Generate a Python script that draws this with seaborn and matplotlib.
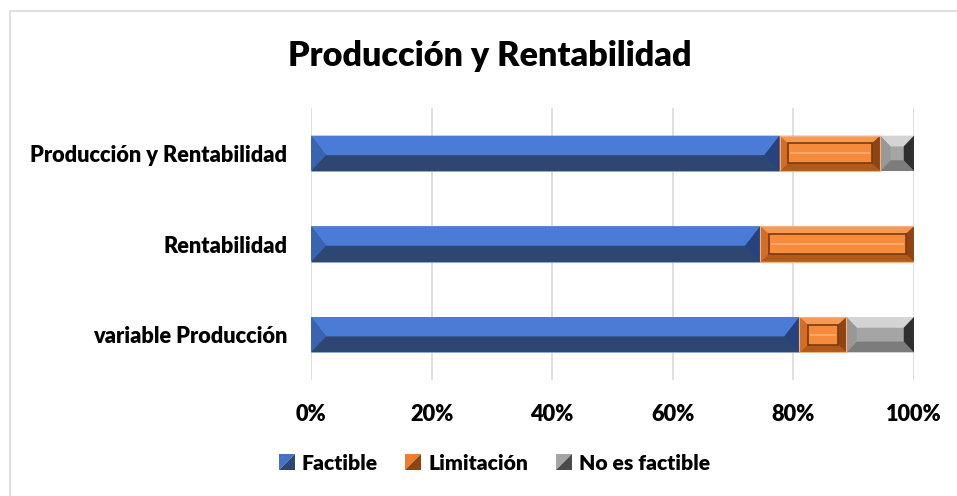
import matplotlib
matplotlib.use("Agg")
import matplotlib.pyplot as plt
from matplotlib.patches import Polygon, Rectangle, Patch
from matplotlib.legend_handler import HandlerBase
import pandas as pd
import seaborn as sns

# === Data ===
categories = ["Producción y Rentabilidad", "Rentabilidad", "variable Producción"]
factible = [77.7, 74.5, 81.0]
limitacion = [16.7, 25.5, 7.8]
no_factible = [5.6, 0.0, 11.2]
series_names = ["Factible", "Limitación", "No es factible"]
x_ticks = [0, 20, 40, 60, 80, 100]

df = pd.DataFrame({"cat": categories, "Factible": factible,
                   "Limitación": limitacion, "No es factible": no_factible})
df["c1"] = df["Factible"]
df["c2"] = df["c1"] + df["Limitación"]
df["c3"] = df["c2"] + df["No es factible"]

plt.rcParams["font.family"] = ["Lato", "DejaVu Sans"]
plt.rcParams["font.weight"] = "heavy"

fig = plt.figure(figsize=(9.57, 4.96), dpi=100)
ax = fig.add_axes([311 / 957, 1 - 380 / 496, 603 / 957, 272 / 496])

# === Stacked bars: draw cumulative totals, widest first ===
layers = [("c3", "#A5A5A5"), ("c2", "#ED7D31"), ("c1", "#2E4672")]
patch_sets = {}
for col, color in layers:
    n0 = len(ax.patches)
    sns.barplot(data=df, x=col, y="cat", orient="h", color=color, width=0.39,
                saturation=1, ax=ax, zorder=2)
    patch_sets[col] = ax.patches[n0:]

# bevel size in data units (about 8 px)
bx = 1.4
by = 0.085


def poly(pts, color):
    ax.add_patch(Polygon(pts, closed=True, facecolor=color, edgecolor="none", zorder=3))


for i, p in enumerate(patch_sets["c1"]):
    y0, h = p.get_y(), p.get_height()
    y1 = y0 + h
    ym = y0 + 0.55 * h
    x0, x1 = 0, df["c1"][i]
    bb = 2.5
    poly([(x0, y0), (x1, y0), (x1 - bb, ym), (x0 + bb, ym)], "#4A7BD7")
    poly([(x0, y0), (x0 + bb, ym), (x0, y1)], "#3A63B2")
    poly([(x1, y0), (x1 - bb, ym), (x1, y1)], "#27437E")
    p.set_edgecolor("#8FAADC")
    p.set_linewidth(0.6)

for i, p in enumerate(patch_sets["c2"]):
    x0, x1 = df["c1"][i], df["c2"][i]
    if x1 - x0 <= 0:
        continue
    y0, h = p.get_y(), p.get_height()
    y1 = y0 + h
    bxx = min(bx, (x1 - x0) / 4)
    poly([(x0, y0), (x1, y0), (x1 - bxx, y0 + by), (x0 + bxx, y0 + by)], "#F59A55")
    poly([(x0, y1), (x1, y1), (x1 - bxx, y1 - by), (x0 + bxx, y1 - by)], "#B05A1C")
    poly([(x0, y0), (x0 + bxx, y0 + by), (x0 + bxx, y1 - by), (x0, y1)], "#D36C24")
    poly([(x1, y0), (x1 - bxx, y0 + by), (x1 - bxx, y1 - by), (x1, y1)], "#8E4512")
    ax.add_patch(Rectangle((x0 + bxx, y0 + by), x1 - x0 - 2 * bxx, h - 2 * by,
                           facecolor="#F68B3C", edgecolor="#7A3A10", lw=1.2, zorder=4))
    ax.plot([x0 + bxx + 0.5, x1 - bxx - 0.5], [y0 + h / 2] * 2, color="#FFB070",
            lw=1.2, zorder=5)
    ax.add_patch(Rectangle((x0, y0), x1 - x0, h, facecolor="none",
                           edgecolor="#F4B183", lw=0.8, zorder=5))

for i, p in enumerate(patch_sets["c3"]):
    x0, x1 = df["c2"][i], df["c3"][i]
    if x1 - x0 <= 0:
        continue
    y0, h = p.get_y(), p.get_height()
    y1 = y0 + h
    bxx = min(1.7, (x1 - x0) / 2.3)
    byy = min(by * 1.4, h / 2.3)
    poly([(x0, y0), (x1, y0), (x1 - bxx, y0 + byy), (x0 + bxx, y0 + byy)], "#D4D4D4")
    poly([(x0, y1), (x1, y1), (x1 - bxx, y1 - byy), (x0 + bxx, y1 - byy)], "#7C7C7C")
    poly([(x0, y0), (x0 + bxx, y0 + byy), (x0 + bxx, y1 - byy), (x0, y1)], "#989898")
    poly([(x1, y0), (x1 - bxx, y0 + byy), (x1 - bxx, y1 - byy), (x1, y1)], "#2F2F2F")

# === Axes styling ===
ax.set_xlim(0, 100)
ax.set_ylim(2.5, -0.5)
ax.set_xticks(x_ticks)
ax.set_xticklabels([f"{t}%" for t in x_ticks])
ax.grid(axis="x", color="#D9D9D9", lw=1.2, zorder=0)
ax.set_axisbelow(True)
for s in ax.spines.values():
    s.set_visible(False)
ax.tick_params(axis="both", length=0, labelsize=15.7, colors="black")
ax.tick_params(axis="y", pad=17)
ax.tick_params(axis="x", pad=17)
ax.set_xlabel("")
ax.set_ylabel("")

fig.text(490 / 957, 1 - 56 / 496, "Producción y Rentabilidad", ha="center",
         va="center", fontsize=24.6, fontweight="heavy")


# legend keys split on the diagonal like the bevelled squares
class BevelKey(HandlerBase):
    def __init__(self, light, dark):
        super().__init__()
        self.light, self.dark = light, dark

    def create_artists(self, legend, orig_handle, xdescent, ydescent, width, height,
                       fontsize, trans):
        s = height
        x0, y0 = -xdescent + (width - s) / 2, -ydescent
        t1 = Polygon([(x0, y0), (x0, y0 + s), (x0 + s, y0 + s)], closed=True,
                     facecolor=self.light, edgecolor="none", transform=trans)
        t2 = Polygon([(x0, y0), (x0 + s, y0), (x0 + s, y0 + s)], closed=True,
                     facecolor=self.dark, edgecolor="none", transform=trans)
        return [t1, t2]


handles = [Patch(), Patch(), Patch()]
keys = [BevelKey("#4472C4", "#2E4672"), BevelKey("#ED7D31", "#8E4512"),
        BevelKey("#A5A5A5", "#4A4A4A")]
fig.legend(handles, series_names, loc="center", bbox_to_anchor=(494 / 957, 1 - 463 / 496),
           ncol=3, frameon=False, fontsize=15.2, handlelength=0.8, handleheight=0.8,
           handletextpad=0.3, columnspacing=1.3,
           handler_map={h: k for h, k in zip(handles, keys)})

fig.patches.append(Rectangle((10 / 957, -0.1), 1.2, 1 - 11 / 496 + 0.1,
                             transform=fig.transFigure, facecolor="none",
                             edgecolor="#D9D9D9", lw=1.2))

fig.savefig("out.png", dpi=100, facecolor="white")
